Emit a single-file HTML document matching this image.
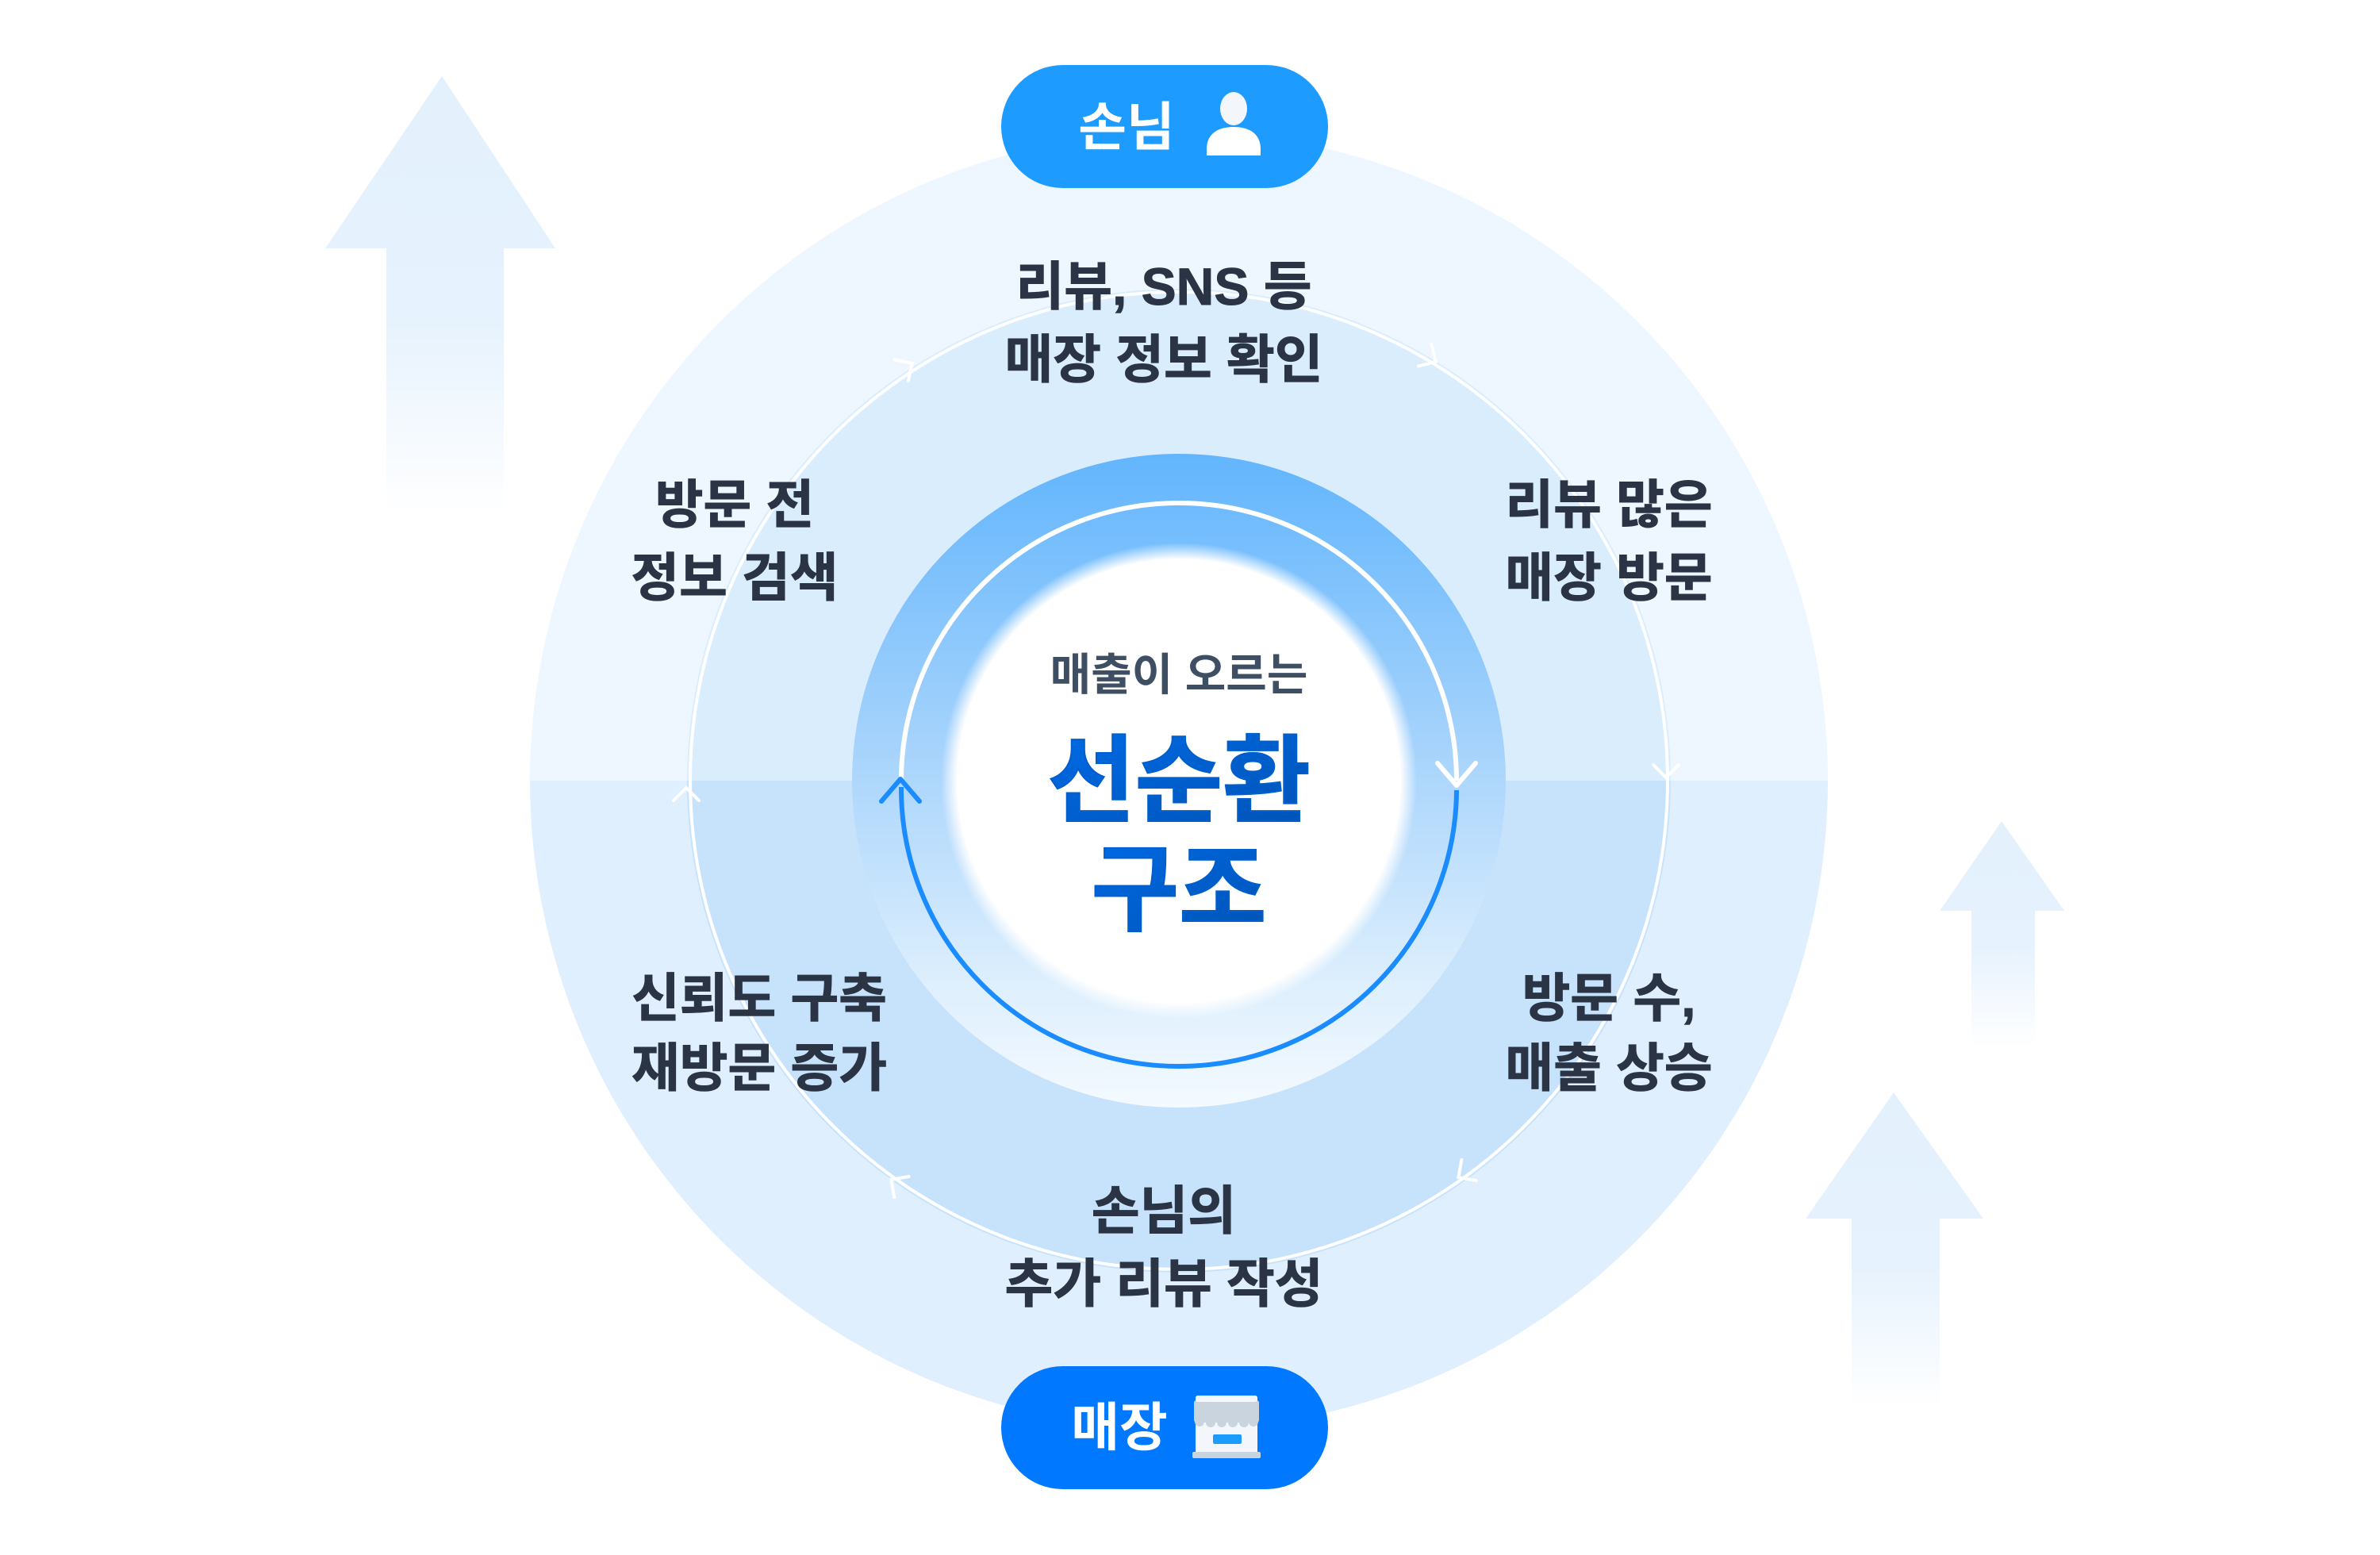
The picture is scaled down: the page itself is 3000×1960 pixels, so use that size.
<!DOCTYPE html>
<html><head><meta charset="utf-8"><style>
html,body{margin:0;padding:0;background:#fff;}
svg{display:block;}
text{font-family:"Liberation Sans","Noto Sans CJK KR",sans-serif;}
</style></head><body>
<svg width="3000" height="1960" viewBox="0 0 3000 1960" xmlns="http://www.w3.org/2000/svg">
<defs>
<linearGradient id="arr" x1="0" y1="0" x2="0" y2="1">
<stop offset="0" stop-color="#E3F1FD"/><stop offset="0.55" stop-color="#E6F2FD"/><stop offset="1" stop-color="#FFFFFF"/>
</linearGradient>
<linearGradient id="ring" x1="0" y1="0" x2="0" y2="1">
<stop offset="0" stop-color="#62B5FD"/><stop offset="0.45" stop-color="#A6D3FC"/><stop offset="0.8" stop-color="#DCEEFD"/><stop offset="1" stop-color="#F4FAFF"/>
</linearGradient>
<radialGradient id="core" cx="0.5" cy="0.5" r="0.5">
<stop offset="0.93" stop-color="#FFFFFF"/><stop offset="1" stop-color="#FFFFFF" stop-opacity="0"/>
</radialGradient>
<linearGradient id="title" x1="0" y1="0" x2="1" y2="1">
<stop offset="0" stop-color="#006BE6"/><stop offset="1" stop-color="#0052B4"/>
</linearGradient>
<clipPath id="top"><rect x="0" y="0" width="3000" height="984"/></clipPath>
<clipPath id="bot"><rect x="0" y="984" width="3000" height="1000"/></clipPath>
</defs>

<polygon points="557,96 700,313 635,313 635,650 487,650 487,313 410,313" fill="url(#arr)"/>
<polygon points="2387,1377 2500,1536 2445,1536 2445,1775 2334,1775 2334,1536 2276,1536" fill="url(#arr)"/>
<polygon points="2523,1035 2602,1148 2565,1148 2565,1320 2485,1320 2485,1148 2445,1148" fill="url(#arr)"/>

<circle cx="1486" cy="984" r="818" fill="#EEF7FF" clip-path="url(#top)"/>
<circle cx="1486" cy="984" r="818" fill="#E0EFFE" clip-path="url(#bot)"/>
<circle cx="1486" cy="984" r="620" fill="#DAEDFD" clip-path="url(#top)"/>
<circle cx="1486" cy="984" r="620" fill="#C7E3FC" clip-path="url(#bot)"/>
<circle cx="1486" cy="984" r="616" fill="none" stroke="#FFFFFF" stroke-width="4"/>

<g fill="none" stroke="#FFFFFF" stroke-width="4" stroke-linecap="round">
<g transform="translate(1148,459) rotate(-33)"><path d="M-14,-16 L2,0 L-14,16"/></g>
<g transform="translate(1808,455) rotate(31)"><path d="M-14,-16 L2,0 L-14,16"/></g>
<g transform="translate(2100,978) rotate(90)"><path d="M-14,-16 L2,0 L-14,16"/></g>
<g transform="translate(1840,1483) rotate(145)"><path d="M-14,-16 L2,0 L-14,16"/></g>
<g transform="translate(1125,1488) rotate(-145)"><path d="M-14,-16 L2,0 L-14,16"/></g>
<g transform="translate(865,995) rotate(-90)"><path d="M-14,-16 L2,0 L-14,16"/></g>
</g>

<circle cx="1486" cy="984" r="412" fill="url(#ring)"/>
<circle cx="1486" cy="984" r="300" fill="url(#core)"/>
<path d="M1136,984 A350,350 0 0 1 1836,984" fill="none" stroke="#FFFFFF" stroke-width="6"/>
<path d="M1812,962 L1836,990 L1860,962" fill="none" stroke="#FFFFFF" stroke-width="6" stroke-linecap="round" stroke-linejoin="round"/>
<path d="M1836,996 A350,350 0 0 1 1136,992" fill="none" stroke="#1A8CFF" stroke-width="6"/>
<path d="M1111,1010 L1135,982 L1159,1010" fill="none" stroke="#1A8CFF" stroke-width="6" stroke-linecap="round" stroke-linejoin="round"/>

<text x="1486" y="870" text-anchor="middle" font-size="56" font-weight="700" fill="#3F4F63">매출이 오르는</text>
<text x="1486" y="1026" text-anchor="middle" font-size="120" font-weight="700" fill="url(#title)" stroke="#005FCC" stroke-width="2">선순환</text>
<text x="1486" y="1163" text-anchor="middle" font-size="120" font-weight="700" fill="url(#title)" stroke="#005FCC" stroke-width="2">구조</text>

<g font-size="66" font-weight="700" fill="#2B3445" text-anchor="middle" stroke="#2B3445" stroke-width="1">
<text x="1467" y="384">리뷰, SNS 등</text>
<text x="1467" y="476">매장 정보 확인</text>
<text x="926" y="659">방문 전</text>
<text x="926" y="751">정보 검색</text>
<text x="2028" y="659">리뷰 많은</text>
<text x="2028" y="751">매장 방문</text>
<text x="2028" y="1281">방문 수,</text>
<text x="2028" y="1369">매출 상승</text>
<text x="957" y="1281">신뢰도 구축</text>
<text x="957" y="1369">재방문 증가</text>
<text x="1467" y="1549">손님의</text>
<text x="1467" y="1641">추가 리뷰 작성</text>
</g>

<rect x="1262" y="82" width="412" height="155" rx="77.5" fill="#1E9BFF"/>
<text x="1420" y="183" text-anchor="middle" font-size="66" font-weight="700" fill="#FFFFFF">손님</text>
<ellipse cx="1555" cy="137" rx="17" ry="21" fill="#F3F6FA"/>
<path d="M1521,196 L1521,188 C1521,168 1536,160 1555,160 C1574,160 1589,168 1589,188 L1589,196 Z" fill="#FFFFFF"/>

<rect x="1262" y="1722" width="412" height="155" rx="77.5" fill="#0078FF"/>
<text x="1411" y="1822" text-anchor="middle" font-size="66" font-weight="700" fill="#FFFFFF">매장</text>
<rect x="1507" y="1759" width="78" height="76" rx="3" fill="#F3F7FB"/>
<rect x="1505" y="1765" width="82" height="28" rx="3" fill="#C9D4DE"/>
<rect x="1507" y="1759" width="78" height="8" rx="3" fill="#F3F7FB"/>
<g fill="#C9D4DE"><circle cx="1512" cy="1792" r="6"/><circle cx="1526" cy="1793" r="6"/><circle cx="1540" cy="1793" r="6"/><circle cx="1554" cy="1793" r="6"/><circle cx="1568" cy="1793" r="6"/><circle cx="1580" cy="1792" r="6"/></g>
<rect x="1529" y="1808" width="36" height="12" rx="2" fill="#1E9BFF"/>
<rect x="1503" y="1830" width="86" height="8" rx="2" fill="#C9D4DE"/>
</svg>
</body></html>
